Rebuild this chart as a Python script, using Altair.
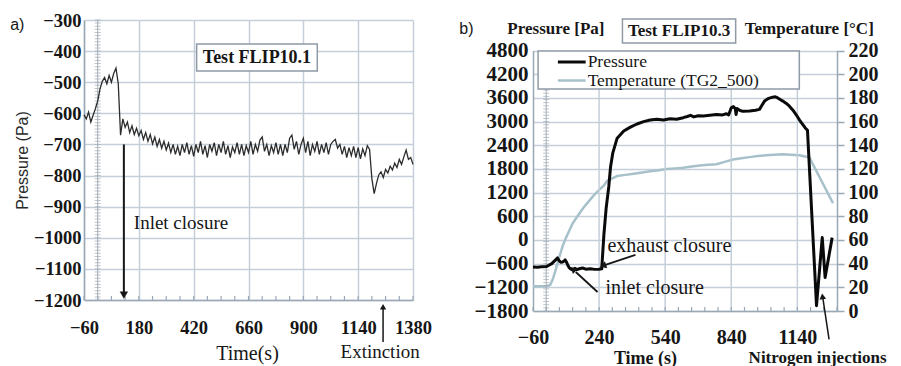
import altair as alt
import pandas as pd

SERIF = "Liberation Serif"
SANS = "Liberation Sans"
INK = "#161616"
GRID = "#c5cfd9"
AXIS = "#9aa8b5"
BOX = "#8f9ba7"
TEMP = "#a7c1ca"

# ---------------- panel a data (Test FLIP10.1), one sample every 10 s from -60 s
PRESS_A = [
    -605, -618, -596, -628, -606, -585, -560, -522, -497, -485,
    -505, -478, -500, -472, -455, -505, -670, -618, -645, -628,
    -662, -640, -668, -648, -672, -655, -684, -662, -690, -668,
    -698, -676, -706, -684, -712, -690, -718, -696, -726, -700,
    -732, -706, -736, -700, -726, -694, -732, -704, -738, -700,
    -726, -690, -732, -704, -742, -700, -722, -694, -736, -700,
    -726, -690, -732, -704, -742, -708, -726, -694, -732, -700,
    -736, -704, -726, -690, -732, -700, -722, -686, -676, -722,
    -700, -736, -704, -726, -694, -732, -700, -736, -700, -726,
    -680, -670, -716, -690, -732, -700, -680, -726, -690, -736,
    -700, -722, -690, -732, -700, -726, -694, -732, -700, -690,
    -684, -712, -700, -732, -706, -742, -710, -736, -706, -742,
    -710, -746, -714, -736, -704, -716, -810, -858, -826, -798,
    -788, -806, -780, -792, -770, -782, -760, -774, -748, -764,
    -740, -718, -748, -742, -764,
]
TIME_A = [-60 + 10 * i for i in range(len(PRESS_A))]

# ---------------- panel b data (Test FLIP10.3)
TIME_BP = [-60, -40, -20, 0, 12, 25, 38, 51, 58, 66, 74, 80, 86, 92, 98, 104,
           112, 120, 130, 140, 150, 165, 180, 200, 220, 240, 252, 262, 272, 284,
           292, 302, 322, 352, 382, 412, 442, 472, 502, 532, 562, 592, 622, 640,
           655, 670, 690, 713, 743, 773, 800, 818, 828, 840, 850, 858, 862, 866,
           880, 893, 923, 950, 968, 980, 991, 1010, 1028, 1040, 1051, 1062, 1074,
           1090, 1104, 1120, 1134, 1150, 1164, 1176, 1186, 1227, 1253, 1266, 1298]
PRESS_B = [-686, -690, -680, -675, -640, -600, -530, -455, -520, -566, -560, -540,
           -505, -560, -640, -700, -740, -760, -720, -750, -730, -710, -740, -730,
           -745, -740, -730, 150, 800, 1350, 1850, 2200, 2580, 2760, 2860, 2940,
           3000, 3040, 3060, 3040, 3075, 3060, 3100, 3130, 3160, 3120, 3150, 3140,
           3160, 3180, 3170, 3200, 3170, 3350, 3380, 3330, 3180, 3330, 3280, 3260,
           3270, 3290, 3310, 3420, 3520, 3590, 3620, 3630, 3600, 3560, 3520, 3460,
           3390, 3290, 3180, 3040, 2930, 2840, 2780, -1665, 60, -950, 60]
TIME_BT = [-60, -30, 0, 18, 30, 45, 60, 75, 90, 105, 120, 138, 153, 168, 190, 213,
           238, 262, 277, 300, 322, 360, 397, 435, 472, 510, 547, 585, 622, 660,
           698, 735, 773, 810, 848, 885, 923, 960, 998, 1036, 1074, 1110, 1149,
           1175, 1194, 1302]
TEMP_B = [21, 21, 21, 22, 27, 36, 46, 55, 62, 68, 74, 79, 83, 87, 92, 97,
          102, 106, 110, 112, 114, 115, 116, 117, 118, 119, 120, 120.5, 121, 122,
          123, 123.5, 124, 126, 128, 129, 130, 131, 131.5, 132, 132.5, 132, 131.5,
          130.5, 130, 91]

A_X_TICKS = [-60, 180, 420, 660, 900, 1140, 1380]
A_Y_TICKS = [-1200, -1100, -1000, -900, -800, -700, -600, -500, -400, -300]
B_X_TICKS = [-60, 240, 540, 840, 1140]
B_P_TICKS = [-1800, -1200, -600, 0, 600, 1200, 1800, 2400, 3000, 3600, 4200, 4800]
B_T_TICKS = [0, 20, 40, 60, 80, 100, 120, 140, 160, 180, 200, 220]
MINOR_A = list(range(-60, 1381, 60))
MINOR_B = list(range(-60, 1321, 60))
STRIP_A = list(range(-1200, -299, 10))
STRIP_B = list(range(-1800, 4801, 80))

XA = alt.Scale(domain=[-60, 1380], nice=False, zero=False)
YA = alt.Scale(domain=[-1200, -300], nice=False, zero=False)
XB = alt.Scale(domain=[-60, 1320], nice=False, zero=False)
YB = alt.Scale(domain=[-1800, 4800], range=[291, 30.6], nice=False, zero=False)
YT = alt.Scale(domain=[0, 220], range=[291, 30.6], nice=False, zero=False)

# ---------------- axes (the same axis object is given to every layer of a panel)
ax_xa = alt.Axis(values=A_X_TICKS, format="d", title="Time(s)", grid=True, gridColor=GRID,
                 gridWidth=1.5, domainColor=AXIS, domainWidth=1.5, ticks=False, labelPadding=18,
                 labelFont=SERIF, labelFontSize=18.5, labelFontWeight="bold", labelColor=INK,
                 labelFlush=False, labelOverlap=False,
                 titleFont=SERIF, titleFontSize=20, titleFontWeight="normal", titleColor=INK,
                 titleX=163, titleY=53, titleBaseline="middle", titleAlign="center")
ax_ya = alt.Axis(values=A_Y_TICKS, format="d", title="Pressure (Pa)", grid=True, gridColor=GRID,
                 gridWidth=1.5, domainColor=AXIS, domainWidth=1.5, ticks=False, labelPadding=3,
                 labelFont=SERIF, labelFontSize=18.5, labelFontWeight="bold", labelColor=INK,
                 labelFlush=False, labelOverlap=False,
                 titleFont=SANS, titleFontSize=16, titleFontWeight="normal", titleColor="#2a2a2a",
                 titlePadding=3)
ax_xb = alt.Axis(values=B_X_TICKS, format="d", title="Time (s)", grid=False, domainColor=AXIS,
                 domainWidth=1.5, ticks=False, labelPadding=16, labelFont=SERIF, labelFontSize=20,
                 labelFontWeight="bold", labelColor=INK, labelFlush=False, labelOverlap=False,
                 titleFont=SERIF, titleFontSize=18, titleFontWeight="bold", titleColor=INK,
                 titleX=112, titleY=47, titleBaseline="middle", titleAlign="center")
ax_yb = alt.Axis(values=B_P_TICKS, format="d", title=None, orient="left", grid=True,
                 gridColor=GRID, gridWidth=1.5, domainColor=AXIS, domainWidth=1.5, ticks=False,
                 labelPadding=5, labelFont=SERIF, labelFontSize=21, labelFontWeight="bold",
                 labelColor=INK, labelFlush=False, labelOverlap=False)
ax_yt = alt.Axis(values=B_T_TICKS, format="d", title=None, orient="right", grid=False,
                 domainColor=AXIS, domainWidth=1.5, tickSize=7, tickColor=AXIS, tickWidth=1.5,
                 labelPadding=4, labelFont=SERIF, labelFontSize=20, labelFontWeight="bold",
                 labelColor=INK, labelFlush=False, labelOverlap=False)

PANEL_A = (XA, YA, ax_xa, ax_ya)
PANEL_B = (XB, YB, ax_xb, ax_yb)
PANEL_T = (XB, YT, ax_xb, ax_yt)


def enc(p, **extra):
    xs, ys, axx, axy = p
    d = dict(x=alt.X("x:Q", scale=xs, axis=axx), y=alt.Y("y:Q", scale=ys, axis=axy))
    d.update(extra)
    return d


def rule(p, x, y, x2, y2, **kw):
    df = pd.DataFrame({"x": [x], "y": [y], "x2": [x2], "y2": [y2]})
    return alt.Chart(df).mark_rule(**kw).encode(**enc(p, x2="x2", y2="y2"))


def box(p, x, y, x2, y2):
    df = pd.DataFrame({"x": [x], "y": [y], "x2": [x2], "y2": [y2]})
    return alt.Chart(df).mark_rect(fill="white", stroke=BOX, strokeWidth=1.5).encode(
        **enc(p, x2="x2", y2="y2"))


def label(p, x, y, txt, **kw):
    df = pd.DataFrame({"x": [x], "y": [y], "label": [txt]})
    base = dict(font=SERIF, fontSize=19, color=INK, baseline="middle", align="center")
    base.update(kw)
    return alt.Chart(df).mark_text(**base).encode(**enc(p, text="label:N"))


def head(p, x, y, angle, size):
    df = pd.DataFrame({"x": [x], "y": [y]})
    return alt.Chart(df).mark_point(shape="triangle-up", filled=True, color=INK,
                                    opacity=1, size=size, angle=angle).encode(**enc(p))


# ================= panel a
minor_a = alt.Chart(pd.DataFrame({"x": MINOR_A, "y": -1200, "y2": -1187})).mark_rule(
    color=AXIS, strokeWidth=1.2).encode(**enc(PANEL_A, y2="y2"))
strip_rule_a = rule(PANEL_A, 0, -1200, 0, -300, color="#a3adb7", strokeWidth=1)
strip_a = alt.Chart(pd.DataFrame({"x": 0, "y": STRIP_A})).mark_tick(
    orient="horizontal", size=6, thickness=1, color="#a3adb7").encode(**enc(PANEL_A))
line_a = alt.Chart(pd.DataFrame({"x": TIME_A, "y": PRESS_A})).mark_line(
    color="#2c2c2c", strokeWidth=1.3).encode(**enc(PANEL_A))

anchor = alt.Chart(pd.DataFrame({"k": [0]})).mark_point(
    size=1, color="white", filled=True, opacity=1).encode(x=alt.value(-83), y=alt.value(-19))

panel_a = alt.layer(
    minor_a, strip_rule_a, strip_a, line_a,
    box(PANEL_A, 433, -377, 961, -464),
    label(PANEL_A, 697, -421, "Test FLIP10.1", fontSize=18, fontWeight="bold"),
    rule(PANEL_A, 114.5, -700, 114.5, -1175, color=INK, strokeWidth=2),
    head(PANEL_A, 114.5, -1184, 180, 70),
    label(PANEL_A, 158, -952, "Inlet closure", align="left"),
    rule(PANEL_A, 1249, -1335, 1249, -1225, color=INK, strokeWidth=1.5),
    head(PANEL_A, 1249, -1222, 0, 40),
    label(PANEL_A, 1236, -1367, "Extinction"),
    label(PANEL_A, -352, -316, "a)", font=SANS, fontSize=16),
    anchor,
).properties(width=329, height=280)

# ================= panel b
vgrid_b = alt.Chart(pd.DataFrame({"x": B_X_TICKS[1:], "y": -1800, "y2": 4800})).mark_rule(
    color=GRID, strokeWidth=1.5).encode(**enc(PANEL_B, y2="y2"))
strip_rule_b = rule(PANEL_B, 0, -1800, 0, 4800, color="#a3adb7", strokeWidth=1)
strip_b = alt.Chart(pd.DataFrame({"x": 0, "y": STRIP_B})).mark_tick(
    orient="horizontal", size=6, thickness=1, color="#a3adb7").encode(**enc(PANEL_B))
minor_b = alt.Chart(pd.DataFrame({"x": MINOR_B, "y": -1800, "y2": -1700})).mark_rule(
    color=AXIS, strokeWidth=1.2).encode(**enc(PANEL_B, y2="y2"))
line_bp = alt.Chart(pd.DataFrame({"x": TIME_BP, "y": PRESS_B})).mark_line(
    color="#0a0a0a", strokeWidth=3, strokeJoin="round").encode(**enc(PANEL_B))

inner_b = alt.layer(
    vgrid_b, strip_rule_b, strip_b, minor_b, line_bp,
    # legend
    box(PANEL_B, -37, 4790, 1149, 3827),
    rule(PANEL_B, 53, 4511, 179, 4511, color="#0a0a0a", strokeWidth=3),
    rule(PANEL_B, 53, 4042, 179, 4042, color=TEMP, strokeWidth=2.5),
    label(PANEL_B, 188, 4511, "Pressure", align="left", fontSize=17.5),
    label(PANEL_B, 188, 4042, "Temperature (TG2_500)", align="left", fontSize=17.5),
    # header
    label(PANEL_B, -362, 5347, "b)", font=SANS, fontSize=16),
    label(PANEL_B, 44, 5347, "Pressure [Pa]", fontSize=17, fontWeight="bold"),
    box(PANEL_B, 346, 5601, 860, 4993),
    label(PANEL_B, 603, 5297, "Test FLIP10.3", fontSize=17, fontWeight="bold"),
    label(PANEL_B, 1194, 5347, "Temperature [°C]", fontSize=17, fontWeight="bold"),
    # annotations
    rule(PANEL_B, 405, -380, 262, -645, color=INK, strokeWidth=1.8),
    head(PANEL_B, 258, -652, 252, 55),
    label(PANEL_B, 278, -153, "exhaust closure", align="left", fontSize=20),
    rule(PANEL_B, 233, -1318, 134, -812, color=INK, strokeWidth=1.8),
    head(PANEL_B, 122, -740, 313, 55),
    label(PANEL_B, 269, -1217, "inlet closure", align="left", fontSize=20),
    rule(PANEL_B, 1284, -2520, 1256, -1480, color=INK, strokeWidth=1.5),
    head(PANEL_B, 1254, -1430, 352, 45),
    label(PANEL_B, 1232, -2990, "Nitrogen injections", fontSize=17, fontWeight="bold"),
)

line_bt = alt.Chart(pd.DataFrame({"x": TIME_BT, "y": TEMP_B})).mark_line(
    color=TEMP, strokeWidth=2.5).encode(**enc(PANEL_T))

panel_b = alt.layer(line_bt, inner_b).resolve_scale(y="independent").properties(
    width=304, height=291)

chart = alt.hconcat(panel_a, panel_b, spacing=120, bounds="flush").properties(
    padding=0, background="white").configure_view(stroke=None)

chart.save("out.html", embed_options={"renderer": "svg", "actions": False})
